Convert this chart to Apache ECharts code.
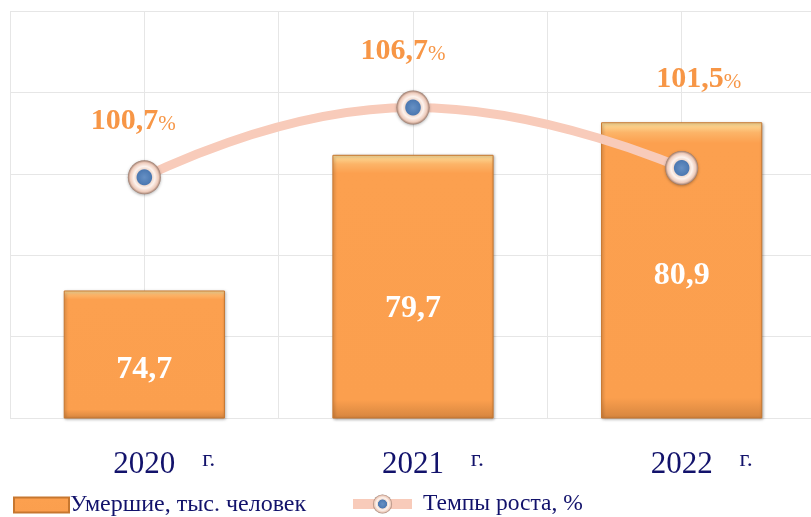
<!DOCTYPE html>
<html>
<head>
<meta charset="utf-8">
<script src="https://cdn.jsdelivr.net/npm/echarts@6/dist/echarts.min.js"></script>
<style>
    html, body { margin: 0; padding: 0; background: #fff; }
    #container { width: 811px; height: 517px; }
</style>
</head>
<body>
<div id="container"></div>
<script>
var years = ['2020', '2021', '2022'];
var deaths = [74.7, 79.7, 80.9];
var growth = [100.7, 106.7, 101.5];
var deathsName = 'Умершие, тыс. человек';
var growthName = 'Темпы роста, %';

// label nudges
var barLabelShift = [[0, 15], [0, 22], [0, 5]];
var lineLabelShift = [[-11, -56], [-10, -56], [17, -89]];

var chart = echarts.init(document.getElementById('container'));

function fmt(v) {
    return String(v).replace('.', ',');
}

var serif = '"Liberation Serif", "Times New Roman", serif';
var navy = '#12126b';

var barData = deaths.map(function (v, i) {
    return { value: v, label: { offset: barLabelShift[i] } };
});
var lineData = growth.map(function (v, i) {
    return { value: v, label: { offset: lineLabelShift[i] } };
});

var option = {
    animation: false,
    // plot area runs a little past the right edge, as in the source picture
    grid: { left: 10, width: 806, top: 11, bottom: 99, outerBoundsMode: 'none' },
    legend: [{
        data: [deathsName],
        left: 8, top: 488,
        icon: 'rect',
        itemWidth: 55, itemHeight: 15,
        textStyle: { fontFamily: serif, fontSize: 24, color: navy, padding: [0, 0, 0, -4] }
    }, {
        data: [growthName],
        left: 343, top: 487,
        itemWidth: 59, itemHeight: 24,
        lineStyle: { width: 10 },
        textStyle: { fontFamily: serif, fontSize: 23.5, color: navy, padding: [0, 0, 0, 6] }
    }],
    xAxis: [{
        type: 'category',
        data: years,
        axisLine: { show: false },
        axisTick: { show: false },
        splitLine: { show: false },
        axisLabel: {
            margin: 30,
            formatter: function (v) {
                return '{p|}{y|' + v + '}{g|г.}';
            },
            rich: {
                p: { width: 40 },
                y: { fontFamily: serif, fontSize: 31, color: navy, lineHeight: 34 },
                g: { fontFamily: serif, fontSize: 24, color: navy, width: 40, align: 'right',
                     verticalAlign: 'top', lineHeight: 28 }
            }
        }
    }, {
        type: 'value',
        min: 0, max: 6, interval: 1,
        position: 'bottom',
        axisLine: { show: false },
        axisTick: { show: false },
        axisLabel: { show: false },
        splitLine: { show: true, lineStyle: { color: '#e6e6e6', width: 1 } }
    }],
    yAxis: [{
        type: 'value',
        min: 70, max: 85, interval: 3,
        axisLine: { show: false },
        axisTick: { show: false },
        axisLabel: { show: false },
        splitLine: { lineStyle: { color: '#e6e6e6', width: 1 } }
    }, {
        type: 'value',
        min: 80, max: 115,
        show: false,
        splitLine: { show: false }
    }],
    series: [{
        name: deathsName,
        type: 'bar',
        xAxisIndex: 0,
        yAxisIndex: 0,
        barWidth: '60%',
        data: barData,
        itemStyle: {
            color: {
                type: 'linear', x: 0, y: 0, x2: 0, y2: 1,
                colorStops: [
                    { offset: 0, color: '#fde3a0' },
                    { offset: 0.035, color: '#fcb468' },
                    { offset: 0.07, color: '#fca04f' },
                    { offset: 0.93, color: '#fb9f4e' },
                    { offset: 1, color: '#d5853f' }
                ]
            },
            borderColor: '#c7772f',
            borderWidth: 1,
            shadowColor: 'rgba(0,0,0,0.35)',
            shadowBlur: 3,
            shadowOffsetX: 1,
            shadowOffsetY: 1
        },
        label: {
            show: true,
            position: 'inside',
            color: '#fff',
            fontFamily: serif,
            fontWeight: 'bold',
            fontSize: 32,
            formatter: function (p) { return fmt(p.value); }
        }
    }, {
        name: growthName,
        type: 'line',
        xAxisIndex: 0,
        yAxisIndex: 1,
        smooth: true,
        z: 5,
        data: lineData,
        lineStyle: { color: '#f8cbba', width: 9 },
        symbol: 'circle',
        symbolSize: [33, 34],
        itemStyle: {
            color: {
                type: 'radial', x: 0.5, y: 0.5, r: 0.5,
                colorStops: [
                    { offset: 0, color: '#6690c4' },
                    { offset: 0.44, color: '#4c79b2' },
                    { offset: 0.5, color: '#f1dcd1' },
                    { offset: 0.64, color: '#fdf3ee' },
                    { offset: 0.86, color: '#eecbbb' },
                    { offset: 1, color: '#9a7a6c' }
                ]
            },
            shadowColor: 'rgba(0,0,0,0.3)',
            shadowBlur: 3,
            shadowOffsetY: 1
        },
        label: {
            show: true,
            position: 'inside',
            formatter: function (p) { return '{n|' + fmt(p.value) + '}{s|%}'; },
            rich: {
                n: { fontFamily: serif, fontWeight: 'bold', fontSize: 30, color: '#f79646' },
                s: { fontFamily: serif, fontSize: 21, color: '#f79646', padding: [6, 0, 0, 0] }
            }
        }
    }]
};
chart.setOption(option);

window.addEventListener('resize', function () {
    chart.resize();
});
</script>
</body>
</html>
